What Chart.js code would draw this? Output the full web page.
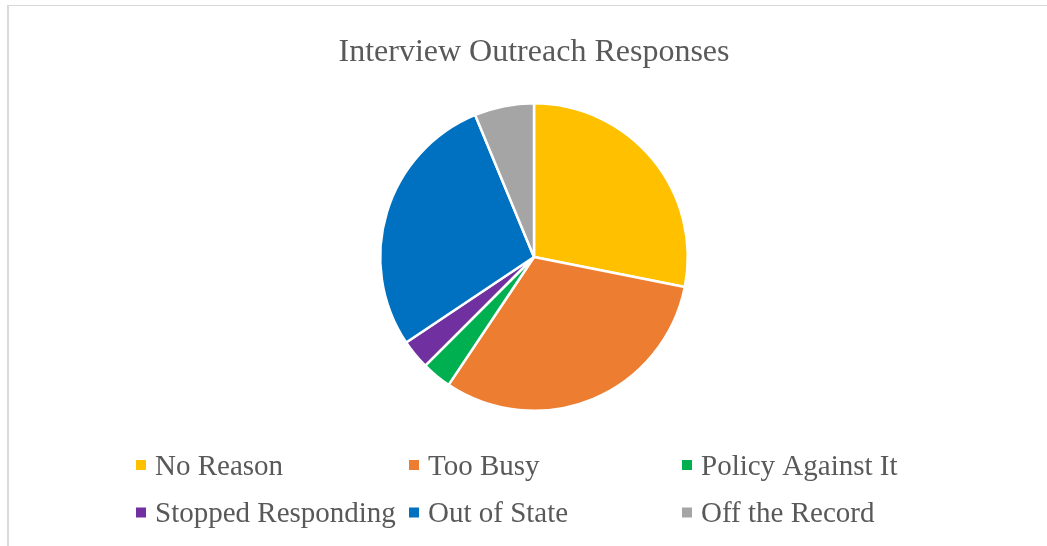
<!DOCTYPE html>
<html>
<head>
<meta charset="utf-8">
<script src="https://cdn.jsdelivr.net/npm/chart.js@4/dist/chart.umd.min.js"></script>
<style>
  html, body { margin: 0; padding: 0; background: #ffffff; }
  #wrap { position: relative; width: 1047px; height: 546px; }
</style>
</head>
<body>
<div id="wrap"><canvas id="c" width="1047" height="546"></canvas></div>
<script>
const titleText = "Interview Outreach Responses";
const categories = ["No Reason", "Too Busy", "Policy Against It", "Stopped Responding", "Out of State", "Off the Record"];
const responseCounts = [9, 10, 1, 1, 9, 2];
const sliceColors = ["#FFC000", "#ED7D31", "#00B050", "#7030A0", "#0070C0", "#A5A5A5"];

const frameAndLegend = {
  id: "frameAndLegend",
  afterDraw(chart) {
    const ctx = chart.ctx;
    ctx.save();
    // outer frame
    ctx.strokeStyle = "#d9d9d9";
    ctx.lineWidth = 1;
    ctx.beginPath();
    ctx.moveTo(7, 5.5);
    ctx.lineTo(1047, 5.5);
    ctx.stroke();
    ctx.lineWidth = 2;
    ctx.beginPath();
    ctx.moveTo(8, 5);
    ctx.lineTo(8, 546);
    ctx.stroke();
    // legend in 3 columns
    const colX = [136, 409, 682];
    const rowY = [465, 512.5];
    ctx.font = "29px 'Liberation Serif', 'Times New Roman', serif";
    ctx.textBaseline = "middle";
    ctx.textAlign = "left";
    categories.forEach((label, i) => {
      const col = i % 3, row = Math.floor(i / 3);
      const x = colX[col], y = rowY[row];
      ctx.fillStyle = sliceColors[i];
      ctx.fillRect(x, y - 5, 10, 10);
      ctx.fillStyle = "#595959";
      ctx.fillText(label, x + 19, y + 2);
    });
    ctx.restore();
  }
};

new Chart(document.getElementById("c"), {
  type: "pie",
  data: {
    labels: categories,
    datasets: [{
      data: responseCounts,
      backgroundColor: sliceColors,
      borderColor: "#ffffff",
      borderWidth: 2.5
    }]
  },
  options: {
    responsive: false,
    animation: false,
    layout: { padding: { left: 21, right: 0, top: 0, bottom: 134 } },
    plugins: {
      legend: { display: false },
      tooltip: { enabled: false },
      title: {
        display: true,
        text: titleText,
        color: "#595959",
        font: { family: "'Liberation Serif', 'Times New Roman', serif", size: 32, weight: "normal", lineHeight: 1.2 },
        padding: { top: 33, bottom: 30.6 }
      }
    }
  },
  plugins: [frameAndLegend]
});
</script>
</body>
</html>
